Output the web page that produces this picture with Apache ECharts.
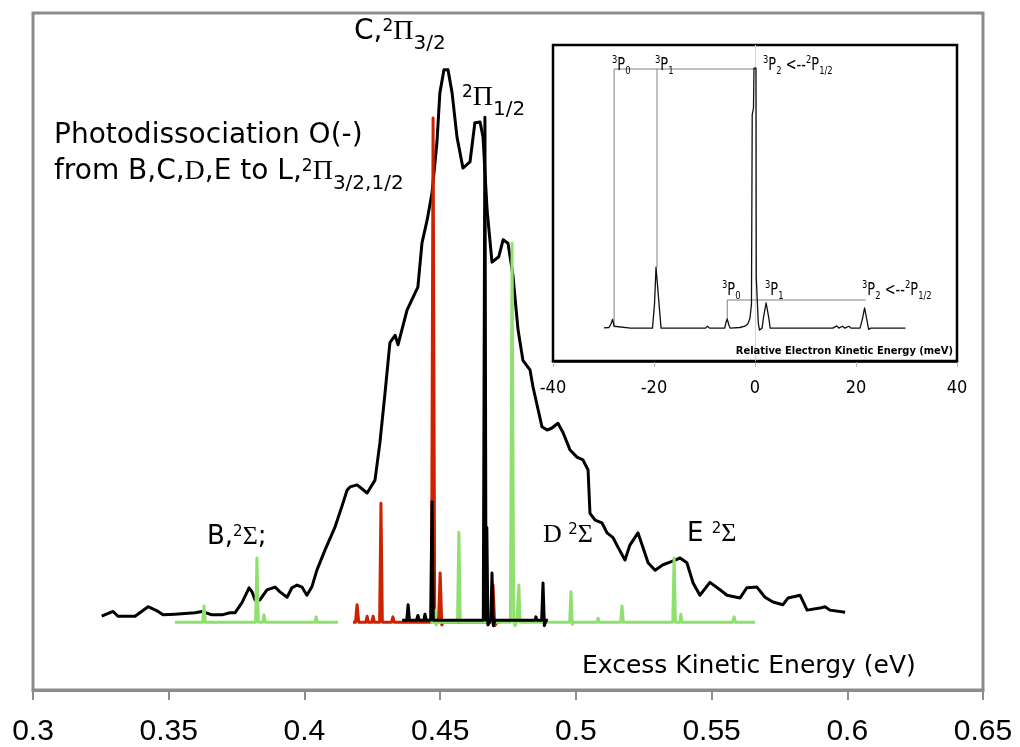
<!DOCTYPE html>
<html><head><meta charset="utf-8">
<script src="https://cdn.jsdelivr.net/npm/echarts@6/dist/echarts.min.js"></script>
<style>html,body{margin:0;padding:0;background:#fff}#c{width:1020px;height:747px}</style>
</head><body><div id="c"></div>
<script>
// ---- main chart data (x: excess kinetic energy in eV, y: intensity, arbitrary units 0..100)
const xMin = 0.3, xMax = 0.65, xStep = 0.05;
const expSpectrum = [
[0.3253,10.9],[0.3295,11.6],[0.3313,10.9],[0.3376,10.9],[0.3424,12.3],[0.3457,11.7],[0.3479,11.1],[0.3523,11.2],[0.3597,11.4],[0.3623,11.6],[0.3659,11.1],[0.3696,11.1],[0.3726,11.4],[0.3744,11.4],[0.3770,12.9],[0.3796,15.1],[0.3807,14.5],[0.3818,13.3],[0.3836,13.3],[0.3862,14.8],[0.3892,15.2],[0.3910,14.5],[0.3936,13.7],[0.3954,15.1],[0.3973,15.5],[0.3991,15.2],[0.4009,14.0],[0.4028,15.3],[0.4046,17.7],[0.4076,20.7],[0.4113,24.1],[0.4142,27.6],[0.4157,29.5],[0.4168,30.0],[0.4194,30.3],[0.4231,29.1],[0.4260,31.0],[0.4278,36.5],[0.4297,43.9],[0.4315,51.3],[0.4334,52.4],[0.4345,51.0],[0.4378,56.1],[0.4407,58.6],[0.4418,59.5],[0.4433,66.0],[0.4452,69.4],[0.4470,73.4],[0.4488,80.8],[0.4499,88.2],[0.4514,91.6],[0.4529,91.6],[0.4544,88.2],[0.4562,81.7],[0.4584,77.1],[0.4610,78.0],[0.4628,83.8],[0.4647,83.9],[0.4658,81.7],[0.4673,70.9],[0.4691,63.2],[0.4716,64.0],[0.4732,66.5],[0.4750,66.0],[0.4768,61.3],[0.4787,53.2],[0.4805,48.7],[0.4831,47.3],[0.4842,44.8],[0.4861,41.4],[0.4875,38.9],[0.4894,38.4],[0.4912,38.7],[0.4934,39.4],[0.4953,38.0],[0.4978,35.5],[0.5004,34.4],[0.5026,34.0],[0.5045,32.5],[0.5052,26.1],[0.5071,25.1],[0.5096,24.7],[0.5115,23.2],[0.5137,22.5],[0.5155,21.1],[0.5181,19.2],[0.5199,21.4],[0.5229,23.2],[0.5247,21.1],[0.5266,18.8],[0.5292,17.7],[0.5321,18.5],[0.5347,18.9],[0.5384,19.5],[0.5409,18.8],[0.5432,15.8],[0.5457,14.0],[0.5494,15.9],[0.5531,14.8],[0.5557,14.0],[0.5605,13.6],[0.5630,15.1],[0.5667,15.2],[0.5697,13.7],[0.5726,13.0],[0.5763,12.6],[0.5782,13.6],[0.5826,14.0],[0.5852,11.8],[0.5899,12.1],[0.5918,12.3],[0.5936,11.8],[0.5992,11.5]
];
const redSticks = [
[0.4179,10.0],[0.4188,10.0],[0.4194,12.6],[0.4200,10.0],[0.4226,10.0],[0.4231,10.9],[0.4236,10.0],[0.4248,10.0],[0.4253,10.9],[0.4258,10.0],[0.4277,10.0],[0.4282,27.6],[0.4287,10.0],[0.4321,10.0],[0.4326,10.8],[0.4331,10.0],[0.4468,10.0],[0.4474,84.5],[0.4480,10.0],[0.4494,10.0],[0.4500,17.3],[0.4506,9.6],[0.4512,10.0],[0.4688,10.0],[0.4695,15.5],[0.4701,9.5],[0.4710,10.0],[0.4720,10.0]
];
const greenSticksLow = [
[0.3523,10.0],[0.3625,10.0],[0.3630,12.4],[0.3635,10.0],[0.3820,10.0],[0.3825,19.5],[0.3830,10.0],[0.3846,10.0],[0.3851,11.1],[0.3856,10.0],[0.4039,10.0],[0.4043,10.8],[0.4047,10.0],[0.4124,10.0]
];
const greenSticksHigh = [
[0.4463,10.0],[0.4477,10.0],[0.4481,11.8],[0.4485,9.6],[0.4490,10.0],[0.4564,10.0],[0.4569,23.3],[0.4574,10.0],[0.4759,10.0],[0.4765,66.0],[0.4771,10.0],[0.4776,9.5],[0.4782,10.0],[0.4786,10.0],[0.4790,15.5],[0.4794,10.0],[0.4977,10.0],[0.4982,14.5],[0.4987,9.7],[0.4992,10.0],[0.5078,10.0],[0.5082,10.6],[0.5086,10.0],[0.5165,10.0],[0.5170,12.4],[0.5175,10.0],[0.5357,10.0],[0.5362,19.5],[0.5367,10.0],[0.5383,10.0],[0.5387,11.2],[0.5391,10.0],[0.5578,10.0],[0.5583,10.8],[0.5588,10.0],[0.5660,10.0]
];
const blackSticks = [
[0.4360,10.3],[0.4377,10.3],[0.4382,12.6],[0.4387,10.3],[0.4413,10.3],[0.4418,11.0],[0.4423,10.3],[0.4440,10.3],[0.4444,11.2],[0.4449,10.3],[0.4465,10.3],[0.4470,27.8],[0.4475,10.3],[0.4659,10.3],[0.4665,84.6],[0.4669,10.3],[0.4672,24.0],[0.4676,9.6],[0.4687,10.3],[0.4691,17.3],[0.4696,9.5],[0.4702,10.3],[0.4850,10.3],[0.4853,10.8],[0.4856,10.3],[0.4874,10.3],[0.4879,15.8],[0.4884,9.5],[0.4890,10.3],[0.4897,10.3]
];
// ---- inset data (x: relative electron kinetic energy in meV, y: intensity 0..100)
const insetXMin = -40, insetXMax = 40, insetXStep = 20;
const insetSpectrum = [
[-29.9,10.5],[-28.9,10.6],[-28.5,11.8],[-28.2,13.2],[-27.9,11.0],[-27.6,10.4],[-24.6,10.4],[-24.3,11.0],[-24.0,10.4],[-22.4,10.4],[-22.1,11.0],[-21.8,10.4],[-20.3,10.4],[-19.9,18.0],[-19.6,29.7],[-19.3,29.7],[-19.0,18.0],[-18.6,10.4],[-15.3,10.4],[-15.0,11.0],[-14.7,10.4],[-9.8,10.4],[-9.4,11.0],[-9.0,10.4],[-8.8,11.0],[-8.5,10.4],[-6.0,10.4],[-5.7,12.5],[-5.5,13.3],[-5.2,11.5],[-4.9,10.4],[-3.0,10.6],[-2.0,11.0],[-1.4,11.8],[-1.0,13.5],[-0.7,18.0],[-0.55,78.0],[-0.3,80.0],[-0.2,92.7],[0.2,92.7],[0.25,26.6],[0.5,26.6],[0.65,12.0],[0.9,9.8],[1.4,10.4],[1.7,14.0],[2.2,18.4],[2.7,14.0],[3.0,10.4],[8.5,10.4],[8.8,11.0],[9.1,10.4],[11.0,10.4],[11.2,11.0],[11.5,10.4],[11.8,11.0],[12.1,10.4],[14.8,10.4],[15.1,11.0],[15.4,10.4],[16.2,11.1],[16.6,10.4],[17.3,11.0],[17.8,10.4],[18.6,11.0],[19.0,10.4],[20.8,10.4],[21.3,13.5],[21.7,16.8],[22.1,13.5],[22.5,10.0],[22.9,10.4],[29.8,10.4]
];
const insetUpperBracket = [[-27.9,10.7],[-27.9,92.4],[0.1,92.4]];
const insetUpperDrop = [[-19.4,92.4],[-19.4,29.7]];
const insetLowerBracket = [[-5.5,13.3],[-5.5,19.3],[21.9,19.3]];
const insetZeroLine = [0];

const chart = echarts.init(document.getElementById('c'), null, {renderer:'canvas'});

const SANS = '"DejaVu Sans"';
const SERIF = '"Liberation Serif"';
const NARROW = '"Liberation Sans Narrow", "DejaVu Sans Condensed", "Liberation Sans"';
const R = {
  m:   {font: '28px ' + SANS, fill: '#000'},
  sr:  {font: '28px ' + SERIF, fill: '#000'},
  sup: {font: '17px ' + SANS, fill: '#000', padding: [0,0,10,0]},
  sub: {font: '20px ' + SANS, fill: '#000', padding: [24,0,0,0]},
  m6:  {font: '26px ' + SANS, fill: '#000'},
  sr6: {font: '26px ' + SERIF, fill: '#000'},
  sp6: {font: '15px ' + SANS, fill: '#000', padding: [0,0,9,0]},
  n:   {font: '17px ' + NARROW, fill: '#000'},
  ns:  {font: '11px ' + NARROW, fill: '#000', padding: [0,0,11,0]},
  nb:  {font: '11px ' + NARROW, fill: '#000', padding: [10,0,0,0]}
};
function label(x, y, text, align, sx) {
  return {type: 'text', x: x, y: y, z: 100, silent: true, scaleX: sx || 1,
    style: {text: text, rich: R, align: align || 'left', verticalAlign: 'middle',
            textAlign: align || 'left', textVerticalAlign: 'middle', fill: '#000', font: '28px ' + SANS}};
}

const option = {
  animation: false,
  backgroundColor: '#fff',
  grid: [
    {left: 33, top: 13, width: 950, height: 677, show: true, borderColor: '#8c8c8c', borderWidth: 3, backgroundColor: 'transparent'},
    {left: 553, top: 45, width: 404, height: 316, show: true, borderColor: '#000', borderWidth: 2.5, backgroundColor: '#fff', z: 3}
  ],
  xAxis: [
    {gridIndex: 0, type: 'value', min: xMin, max: xMax, interval: xStep,
     axisLine: {show: true, onZero: false, lineStyle: {color: '#8c8c8c', width: 3}},
     axisTick: {show: true, length: 10, lineStyle: {color: '#8c8c8c', width: 2}},
     axisLabel: {fontFamily: 'Liberation Sans', fontSize: 30, color: '#000', margin: 27,
                 formatter: v => String(+v.toFixed(2))},
     splitLine: {show: false}},
    {gridIndex: 1, type: 'value', min: insetXMin, max: insetXMax, interval: insetXStep,
     axisLine: {show: true, onZero: false, lineStyle: {color: '#000', width: 2.5}},
     axisTick: {show: true, length: 6, lineStyle: {color: '#bbbbbb', width: 1}},
     axisLabel: {fontFamily: NARROW, fontSize: 18, color: '#000', margin: 18},
     splitLine: {show: false}}
  ],
  yAxis: [
    {gridIndex: 0, type: 'value', min: 0, max: 100, show: false},
    {gridIndex: 1, type: 'value', min: 0, max: 100, show: false}
  ],
  series: [
    {type: 'line', xAxisIndex: 0, yAxisIndex: 0, data: expSpectrum, showSymbol: false, z: 2,
     lineStyle: {color: '#000', width: 3, join: 'round'}},
    {type: 'line', xAxisIndex: 0, yAxisIndex: 0, data: redSticks, showSymbol: false, z: 3,
     lineStyle: {color: '#cc2200', width: 3, join: 'round'}},
    {type: 'line', xAxisIndex: 0, yAxisIndex: 0, data: greenSticksLow, showSymbol: false, z: 4,
     lineStyle: {color: '#8fe06f', width: 3, join: 'round'}},
    {type: 'line', xAxisIndex: 0, yAxisIndex: 0, data: greenSticksHigh, showSymbol: false, z: 4,
     lineStyle: {color: '#8fe06f', width: 3, join: 'round'}},
    {type: 'line', xAxisIndex: 0, yAxisIndex: 0, data: blackSticks, showSymbol: false, z: 5,
     lineStyle: {color: '#000', width: 3, join: 'round'}},
    {type: 'line', xAxisIndex: 1, yAxisIndex: 1, data: insetSpectrum, showSymbol: false, z: 6,
     lineStyle: {color: '#111', width: 1.3, join: 'round'},
     markLine: {silent: true, symbol: 'none', label: {show: false},
                lineStyle: {color: '#d4d4d4', width: 1, type: 'solid'},
                data: insetZeroLine.map(v => ({xAxis: v}))}},
    {type: 'line', xAxisIndex: 1, yAxisIndex: 1, data: insetUpperBracket, showSymbol: false, z: 5,
     lineStyle: {color: '#808080', width: 1}},
    {type: 'line', xAxisIndex: 1, yAxisIndex: 1, data: insetUpperDrop, showSymbol: false, z: 5,
     lineStyle: {color: '#808080', width: 1}},
    {type: 'line', xAxisIndex: 1, yAxisIndex: 1, data: insetLowerBracket, showSymbol: false, z: 5,
     lineStyle: {color: '#808080', width: 1}}
  ],
  graphic: [
    label(354, 32, '{m|C,}{sup|2}{sr|Π}{sub|3/2}'),
    label(462, 98, '{sup|2}{sr|Π}{sub|1/2}'),
    label(54, 136, '{m|Photodissociation O(-)}'),
    label(54, 172, '{m|from B,C,}{sr|D}{m|,E to L,}{sup|2}{sr|Π}{sub|3/2,1/2}'),
    label(207, 537, '{m6|B,}{sp6|2}{sr6|Σ}{m6|;}'),
    label(543, 535, '{sr6|D }{sp6|2}{sr6|Σ}'),
    label(687, 534, '{m6|E }{sp6|2}{sr6|Σ}'),
    {type: 'text', x: 582, y: 666, z: 100, silent: true,
     style: {text: 'Excess Kinetic Energy (eV)', font: '25px ' + SANS, fill: '#000',
             align: 'left', verticalAlign: 'middle', textAlign: 'left', textVerticalAlign: 'middle'}},
    {type: 'text', x: 953, y: 351, z: 100, silent: true,
     style: {text: 'Relative Electron Kinetic Energy (meV)', font: 'bold 11px ' + NARROW, fill: '#000',
             align: 'right', verticalAlign: 'middle', textAlign: 'right', textVerticalAlign: 'middle'}},
    label(612, 66, '{ns|3}{n|P}{nb|0}', 'left', 0.85),
    label(655, 66, '{ns|3}{n|P}{nb|1}', 'left', 0.85),
    label(763, 66, '{ns|3}{n|P}{nb|2}{n| <--}{ns|2}{n|P}{nb|1/2}', 'left', 0.85),
    label(722, 291, '{ns|3}{n|P}{nb|0}', 'left', 0.85),
    label(765, 291, '{ns|3}{n|P}{nb|1}', 'left', 0.85),
    label(862, 291, '{ns|3}{n|P}{nb|2}{n| <--}{ns|2}{n|P}{nb|1/2}', 'left', 0.85)
  ]
};
chart.setOption(option);
</script>
</body></html>
